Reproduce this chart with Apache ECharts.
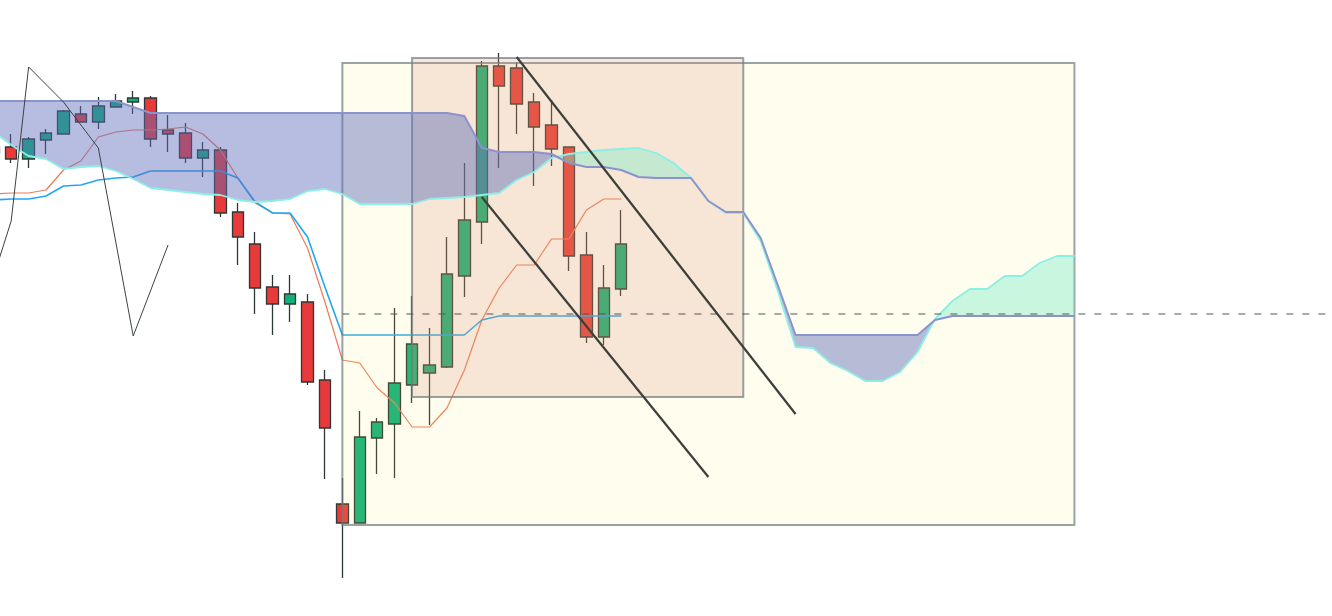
<!DOCTYPE html>
<html>
<head>
<meta charset="utf-8">
<script src="https://cdn.jsdelivr.net/npm/echarts@6.0.0/dist/echarts.min.js"></script>
<style>
html, body { margin: 0; padding: 0; background: #fff; }
#container { width: 1332px; height: 616px; }
</style>
</head>
<body>
<div id="container"></div>
<script>
// candles: [open, close, low, high], one per period (period 0 is cut off at the left edge)
var bars = [
    [1.1269, 1.1263, 1.1260, 1.1272],
    [1.1269, 1.1257, 1.1253, 1.1282],
    [1.1257, 1.1277, 1.1248, 1.1279],
    [1.1276, 1.1283, 1.1262, 1.1287],
    [1.1282, 1.1305, 1.1282, 1.1306],
    [1.1302, 1.1294, 1.1294, 1.1310],
    [1.1294, 1.1310, 1.1287, 1.1319],
    [1.1309, 1.1315, 1.1309, 1.1322],
    [1.1314, 1.1318, 1.1302, 1.1325],
    [1.1318, 1.1277, 1.1269, 1.1320],
    [1.1286, 1.1282, 1.1264, 1.1301],
    [1.1283, 1.1258, 1.1253, 1.1293],
    [1.1258, 1.1266, 1.1239, 1.1274],
    [1.1266, 1.1203, 1.1199, 1.1269],
    [1.1204, 1.1179, 1.1151, 1.1213],
    [1.1172, 1.1128, 1.1102, 1.1184],
    [1.1129, 1.1112, 1.1081, 1.1141],
    [1.1112, 1.1122, 1.1094, 1.1141],
    [1.1114, 1.1034, 1.1031, 1.1122],
    [1.1036, 1.0988, 1.0937, 1.1046],
    [1.0912, 1.0893, 1.0838, 1.0938],
    [1.0893, 1.0979, 1.0893, 1.1005],
    [1.0978, 1.0994, 1.0942, 1.0998],
    [1.0992, 1.1033, 1.0938, 1.1108],
    [1.1031, 1.1072, 1.1013, 1.1120],
    [1.1043, 1.1051, 1.0991, 1.1088],
    [1.1049, 1.1142, 1.1048, 1.1179],
    [1.1140, 1.1196, 1.1119, 1.1253],
    [1.1194, 1.1350, 1.1172, 1.1355],
    [1.1350, 1.1330, 1.1248, 1.1363],
    [1.1348, 1.1312, 1.1282, 1.1354],
    [1.1314, 1.1289, 1.1230, 1.1323],
    [1.1291, 1.1267, 1.1250, 1.1316],
    [1.1269, 1.1160, 1.1145, 1.1269],
    [1.1161, 1.1079, 1.1073, 1.1184],
    [1.1079, 1.1128, 1.1071, 1.1151],
    [1.1127, 1.1172, 1.1120, 1.1206]
];

var tenkan = [
    1.1222, 1.1223, 1.1223, 1.1226, 1.1246, 1.1255, 1.1279, 1.1284, 1.1286, 1.1286,
    1.1287, 1.1289, 1.1282, 1.1266, 1.1238, 1.1213, 1.1203, 1.1202, 1.1168, 1.1114,
    1.1056, 1.1053, 1.1028, 1.1013, 1.0989, 1.0989, 1.1008, 1.1046, 1.1096, 1.1128,
    1.1151, 1.1151, 1.1177, 1.1177, 1.1206, 1.1217, 1.1217
];

var kijun = [
    1.1216, 1.1217, 1.1217, 1.1220, 1.1230, 1.1231, 1.1236, 1.1238, 1.1239, 1.1245,
    1.1245, 1.1245, 1.1245, 1.1245, 1.1238, 1.1214, 1.1203, 1.1203, 1.1179, 1.1129,
    1.1081, 1.1081, 1.1081, 1.1081, 1.1081, 1.1081, 1.1081, 1.1081, 1.1096, 1.1100,
    1.1100, 1.1100, 1.1100, 1.1100, 1.1100, 1.1100, 1.1100
];

// leading spans, shifted 26 periods ahead
var senkouA = [
    1.1284, 1.1271, 1.1260, 1.1257, 1.1247, 1.1249, 1.1250, 1.1245, 1.1237, 1.1228,
    1.1226, 1.1224, 1.1222, 1.1221, 1.1216, 1.1214, 1.1215, 1.1217, 1.1225, 1.1227,
    1.1222, 1.1212, 1.1212, 1.1212, 1.1212, 1.1217, 1.1218, 1.1219, 1.1221, 1.1223,
    1.1236, 1.1244, 1.1258, 1.1262, 1.1264, 1.1266, 1.1267, 1.1268, 1.1263, 1.1253,
    1.1238, 1.1215, 1.1203, 1.1203, 1.1175, 1.1124, 1.1069, 1.1068, 1.1053, 1.1045,
    1.1035, 1.1035, 1.1044, 1.1064, 1.1097, 1.1115, 1.1127, 1.1127, 1.1140, 1.1140,
    1.1153, 1.1160, 1.1160
];

var senkouB = [
    1.1315, 1.1315, 1.1315, 1.1315, 1.1315, 1.1315, 1.1315, 1.1315, 1.1309, 1.1303,
    1.1303, 1.1303, 1.1303, 1.1303, 1.1303, 1.1303, 1.1303, 1.1303, 1.1303, 1.1303,
    1.1303, 1.1303, 1.1303, 1.1303, 1.1303, 1.1303, 1.1303, 1.1300, 1.1268, 1.1264,
    1.1264, 1.1264, 1.1262, 1.1253, 1.1249, 1.1249, 1.1246, 1.1239, 1.1238, 1.1238,
    1.1238, 1.1215, 1.1204, 1.1204, 1.1178, 1.1130, 1.1081, 1.1081, 1.1081, 1.1081,
    1.1081, 1.1081, 1.1081, 1.1081, 1.1096, 1.1100, 1.1100, 1.1100, 1.1100, 1.1100,
    1.1100, 1.1100, 1.1100
];

// drawings: [period, price] points
var zigzag = [[0, 1.1140], [1, 1.1195], [2, 1.1349], [4, 1.1314], [6, 1.1268], [8, 1.1080], [10, 1.1171]];
var trendLines = [
    [[30, 1.1359], [46, 1.1002]],
    [[28, 1.1219], [41, 1.0939]]
];
// boxes: [fromPeriod, topPrice, toPeriod, bottomPrice]
var boxes = [
    [20, 1.1353, 62, 1.0891],
    [24, 1.1358, 43, 1.1019]
];
var priceLine = [[20, 1.1102], [76.5, 1.1102]];

var periodCount = 77;
var periods = [];
for (var k = 0; k < periodCount; k++) {
    periods.push(String(k));
}

var boxFills = ['rgba(255,235,85,0.10)', 'rgba(215,130,110,0.20)'];
var bullFill = 'rgba(120,235,200,0.40)';
var bearFill = 'rgba(93,108,186,0.45)';

// split the cloud into runs where one span stays above the other
function cloudRuns(a, b) {
    var runs = [];
    var start = 0;
    for (var j = 0; j < a.length; j++) {
        if (a[j] !== b[j]) { start = a[j] > b[j] ? 1 : -1; break; }
    }
    var cur = { up: start > 0, a: [[0, a[0]]], b: [[0, b[0]]] };
    for (var i = 0; i < a.length - 1; i++) {
        var d0 = a[i] - b[i], d1 = a[i + 1] - b[i + 1];
        var s1 = d1 > 0 ? 1 : (d1 < 0 ? -1 : 0);
        if (s1 !== 0 && (s1 > 0) !== cur.up) {
            var cross;
            if (d0 !== 0) {
                var t = d0 / (d0 - d1);
                cross = [i + t, a[i] + (a[i + 1] - a[i]) * t];
                cur.a.push(cross);
                cur.b.push(cross);
            } else {
                cross = [i, a[i]];
            }
            runs.push(cur);
            cur = { up: s1 > 0, a: [cross], b: [cross] };
        }
        cur.a.push([i + 1, a[i + 1]]);
        cur.b.push([i + 1, b[i + 1]]);
    }
    runs.push(cur);
    return runs;
}
var runs = cloudRuns(senkouA, senkouB);

var dom = document.getElementById('container');
var myChart = echarts.init(dom);

var lineBase = { type: 'line', symbol: 'none', silent: true, animation: false };

var option = {
    animation: false,
    grid: {
        left: -14.95, top: 0, width: 17.43 * periodCount, height: 616,
        containLabel: false, outerBoundsMode: 'none'
    },
    xAxis: [
        { type: 'category', data: periods, boundaryGap: true, show: false },
        { type: 'value', min: -0.5, max: periodCount - 0.5, show: false }
    ],
    yAxis: { type: 'value', min: 1.0800, max: 1.1416, show: false, splitLine: { show: false } },
    series: [
        {
            type: 'candlestick',
            data: bars,
            barWidth: 12,
            z: 2,
            itemStyle: {
                color: '#10b07a',
                color0: '#e83a3a',
                borderColor: '#2f3636',
                borderColor0: '#2f3636',
                borderWidth: 1.3
            }
        },
        Object.assign({}, lineBase, { data: tenkan, z: 3, lineStyle: { color: '#ee7a58', width: 1.2 } }),
        Object.assign({}, lineBase, { data: kijun, z: 3, lineStyle: { color: '#22a7f0', width: 1.6 } }),
        {
            type: 'custom',
            xAxisIndex: 1,
            z: 4,
            silent: true,
            data: boxes,
            renderItem: function (params, api) {
                var p1 = api.coord([api.value(0), api.value(1)]);
                var p2 = api.coord([api.value(2), api.value(3)]);
                return {
                    type: 'rect',
                    shape: { x: p1[0], y: p1[1], width: p2[0] - p1[0], height: p2[1] - p1[1] },
                    style: { fill: boxFills[params.dataIndex], stroke: 'rgba(110,125,125,0.7)', lineWidth: 2 }
                };
            }
        },
        {
            type: 'custom',
            xAxisIndex: 1,
            z: 5,
            silent: true,
            data: runs.map(function (r, i) { return [i]; }),
            renderItem: function (params, api) {
                var run = runs[params.dataIndex];
                var pts = [];
                run.a.forEach(function (p) { pts.push(api.coord(p)); });
                for (var i = run.b.length - 1; i >= 0; i--) pts.push(api.coord(run.b[i]));
                return {
                    type: 'polygon',
                    shape: { points: pts },
                    style: { fill: run.up ? bullFill : bearFill, stroke: null }
                };
            }
        },
        Object.assign({}, lineBase, { data: senkouA, z: 6, lineStyle: { color: '#8cefe6', width: 1.8 } }),
        Object.assign({}, lineBase, { data: senkouB, z: 6, lineStyle: { color: '#8a93cc', width: 2 } }),
        Object.assign({}, lineBase, { xAxisIndex: 1, data: zigzag, z: 7, lineStyle: { color: '#3a4242', width: 1 } }),
        Object.assign({}, lineBase, { xAxisIndex: 1, data: priceLine, z: 7, lineStyle: { color: '#555', width: 1, type: [7, 9] } })
    ].concat(trendLines.map(function (pts) {
        return Object.assign({}, lineBase, { xAxisIndex: 1, data: pts, z: 7, lineStyle: { color: '#3d403a', width: 2.2 } });
    }))
};

if (option && typeof option === 'object') {
    myChart.setOption(option, true);
}
</script>
</body>
</html>
